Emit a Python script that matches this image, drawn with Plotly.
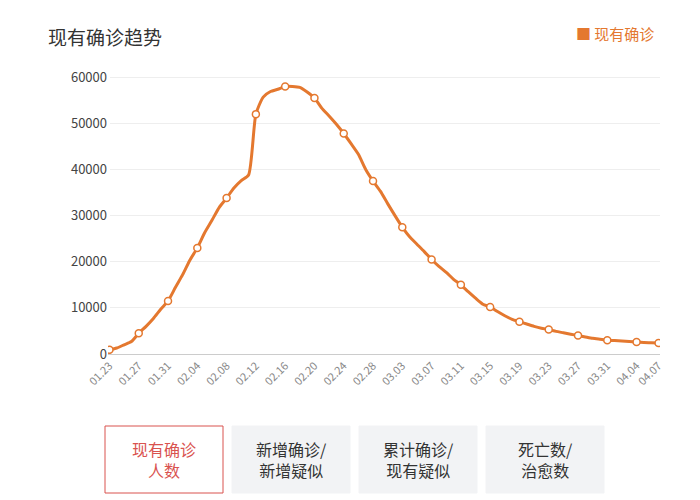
import plotly.graph_objects as go
import datetime as dt

start = dt.date(2020, 1, 23)
values = [900, 1300, 2000, 2700, 4500, 6000, 7700, 9700, 11500, 14400, 17200, 20400,
          23000, 26300, 29000, 31800, 33800, 36000, 37600, 38800, 52000, 55700, 56900,
          57400, 58000, 58000, 57800, 56800, 55500, 53300, 51600, 49800, 47800, 45600,
          43300, 40000, 37500, 35300, 32600, 30000, 27500, 25400, 23800, 22200, 20500,
          19000, 17700, 16200, 15000, 13500, 12100, 10800, 10200, 9200, 8300, 7500,
          7000, 6500, 6000, 5600, 5300, 4900, 4600, 4300, 4000, 3700, 3400, 3200, 3000,
          2900, 2800, 2700, 2600, 2500, 2450, 2400]
dates = [start + dt.timedelta(days=i) for i in range(len(values))]
labels = [d.strftime("%m.%d") for d in dates]
mark_idx = sorted(set(list(range(0, len(values), 4)) + [len(values) - 1]))
yticks = [0, 10000, 20000, 30000, 40000, 50000, 60000]

orange = "#E4782F"
L, R, T, B = 100, 652, 60, 346
W = R - L
H = B - T
fig = go.Figure()
fig.add_trace(go.Scatter(x=list(range(len(values))), y=values, mode="lines",
                         line=dict(color=orange, width=3, shape="spline", smoothing=0.6),
                         hoverinfo="skip", showlegend=False))
fig.add_trace(go.Scatter(x=mark_idx, y=[values[i] for i in mark_idx], mode="markers",
                         marker=dict(color="white", size=7, line=dict(color=orange, width=1.5)),
                         showlegend=False))
fig.update_layout(
    width=700, height=500, margin=dict(l=L, r=700 - R, t=T, b=500 - B, autoexpand=False),
    paper_bgcolor="white", plot_bgcolor="white",
    font=dict(family="Noto Sans CJK SC", color="#555"),
    xaxis=dict(tickmode="array", tickvals=mark_idx, ticktext=[labels[i] for i in mark_idx],
               tickangle=-45, range=[-0.2, len(values) - 0.8], showgrid=False,
               showline=True, linecolor="#ccc", tickfont=dict(size=11, color="#888")),
    yaxis=dict(range=[0, 62000], tickvals=yticks, tickformat="d", showgrid=True, gridcolor="#eee",
               zeroline=False, tickfont=dict(size=13, color="#444"), ticksuffix="  "),
)
def px(x):
    return (x - L) / W
def py(y):
    return (B - y) / H
fig.add_annotation(text="现有确诊趋势", xref="paper", yref="paper", x=px(38), y=py(28),
                   xanchor="left", yanchor="middle", showarrow=False, font=dict(size=19, color="#333"))
fig.add_annotation(text="■ 现有确诊", xref="paper", yref="paper",
                   x=px(648), y=py(26), xanchor="right", yanchor="middle", showarrow=False,
                   font=dict(size=15, color=orange))
buttons = [(97, 215, "现有确诊<br>人数", True), (224, 342, "新增确诊/<br>新增疑似", False),
           (351, 469, "累计确诊/<br>现有疑似", False), (478, 596, "死亡数/<br>治愈数", False)]
for x0, x1, t, sel in buttons:
    fig.add_shape(type="rect", xref="paper", yref="paper",
                  x0=px(x0), x1=px(x1), y0=py(485), y1=py(418),
                  fillcolor="white" if sel else "#F2F3F5",
                  line=dict(color="#D9534F" if sel else "#F2F3F5", width=1))
    fig.add_annotation(text=t, xref="paper", yref="paper", x=px((x0 + x1) / 2),
                       y=py(451.5), xanchor="center", yanchor="middle", align="center",
                       showarrow=False, font=dict(size=16, color="#D9534F" if sel else "#333"))
fig.write_html("out.html")
